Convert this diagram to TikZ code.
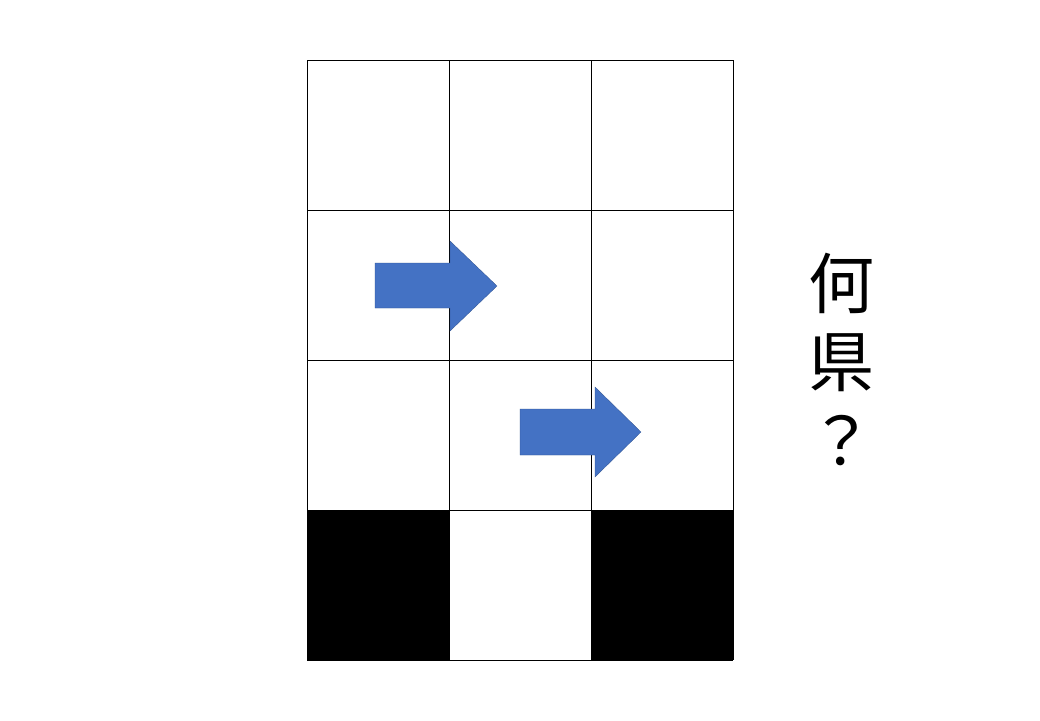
\documentclass[tikz,border=0pt]{standalone}
\usepackage{fontspec}
\newfontfamily\cjk{Noto Sans CJK JP}
\usepackage{xcolor}
\usepackage{tikz}
\definecolor{arrowblue}{HTML}{4472C4}
\definecolor{arrowedge}{HTML}{2F528F}

\begin{document}
\begin{tikzpicture}[x=1pt,y=1pt]
\tikzstyle{every node}+=[inner sep=0pt]
\tikzstyle{gridline}=[black, line width=0.9pt]
\tikzstyle{blockarrow}=[fill=arrowblue, draw=arrowedge, line width=0.3pt]
\tikzstyle{kanji}=[font=\cjk\fontsize{66}{66}\selectfont]
\useasboundingbox (0,0) rectangle (1040,-720);
\fill [white] (0,0) rectangle (1040,-720);
\fill [black] (307,-510) rectangle (449,-660);
\fill [black] (591,-510) rectangle (733,-660);
\foreach \x in {307,449,591,733}
  \draw [gridline] (\x,-60) -- (\x,-660);
\foreach \y in {60,210,360,510,660}
  \draw [gridline] (307,-\y) -- (733,-\y);
\draw [blockarrow] (375,-263) -- (450,-263) -- (450,-241) -- (497,-286) -- (450,-331) -- (450,-308) -- (375,-308) -- cycle;
\draw [blockarrow] (520,-409) -- (595,-409) -- (595,-387) -- (641,-432) -- (595,-477) -- (595,-455) -- (520,-455) -- cycle;
\node [kanji] (nani) at (841,-283) {何};
\node [kanji] (ken) at (841,-363) {県};
\node [kanji] (question) at (841,-441) {？};
\end{tikzpicture}
\end{document}
